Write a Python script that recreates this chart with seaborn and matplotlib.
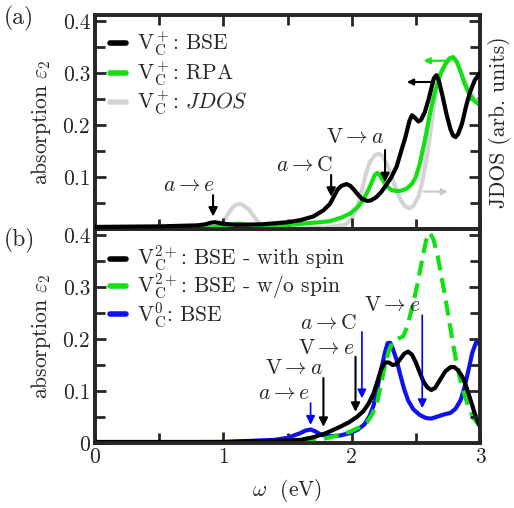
import matplotlib
matplotlib.use("Agg")
import matplotlib.pyplot as plt
import seaborn as sns
from matplotlib.lines import Line2D
from matplotlib.ticker import MultipleLocator

# ---- panel (a): V_C^+ ----
xa_bse = [0.0, 0.5, 0.8, 0.86, 0.9, 0.93, 0.96, 1.0, 1.1, 1.3, 1.5, 1.6, 1.7, 1.78, 1.83, 1.86,
          1.89, 1.92, 1.96, 1.99, 2.02, 2.05, 2.08, 2.12, 2.15, 2.19, 2.23, 2.27, 2.31, 2.35, 2.38,
          2.42, 2.45, 2.47, 2.49, 2.52, 2.54, 2.57, 2.6, 2.62, 2.64, 2.66, 2.68, 2.71, 2.74, 2.77,
          2.79, 2.81, 2.83, 2.86, 2.89, 2.92, 2.96, 3.0]
ya_bse = [0.004, 0.005, 0.007, 0.009, 0.012, 0.013, 0.012, 0.01, 0.008, 0.009, 0.013, 0.017, 0.024,
          0.036, 0.048, 0.062, 0.076, 0.083, 0.0865, 0.083, 0.075, 0.066, 0.058, 0.054, 0.055, 0.061,
          0.071, 0.085, 0.1, 0.12, 0.145, 0.178, 0.208, 0.219, 0.215, 0.207, 0.21, 0.225, 0.25, 0.27,
          0.29, 0.296, 0.285, 0.254, 0.22, 0.192, 0.18, 0.177, 0.183, 0.203, 0.235, 0.262, 0.287,
          0.30]

xa_rpa = [0.0, 0.9, 1.0, 1.05, 1.09, 1.13, 1.18, 1.3, 1.5, 1.6, 1.75, 1.83, 1.92, 1.99, 2.05, 2.09,
          2.13, 2.16, 2.18, 2.2, 2.22, 2.25, 2.28, 2.31, 2.35, 2.39, 2.43, 2.47, 2.5, 2.53, 2.57,
          2.61, 2.65, 2.69, 2.73, 2.76, 2.79, 2.82, 2.85, 2.88, 2.91, 2.95, 3.0]
ya_rpa = [0.003, 0.003, 0.005, 0.008, 0.01, 0.01, 0.008, 0.005, 0.008, 0.01, 0.013, 0.015, 0.022,
          0.03, 0.043, 0.056, 0.075, 0.092, 0.104, 0.108, 0.103, 0.091, 0.081, 0.075, 0.073, 0.074,
          0.078, 0.087, 0.1, 0.125, 0.17, 0.222, 0.265, 0.297, 0.318, 0.328, 0.331, 0.322, 0.302,
          0.28, 0.263, 0.248, 0.238]

xa_jdos = [0.0, 0.9, 0.96, 1.0, 1.04, 1.07, 1.1, 1.13, 1.16, 1.2, 1.23, 1.27, 1.31, 1.4, 1.8, 1.95,
           2.0, 2.04, 2.08, 2.11, 2.14, 2.18, 2.21, 2.24, 2.27, 2.3, 2.33, 2.36, 2.39, 2.42, 2.45,
           2.48, 2.52, 2.55, 2.58, 2.61, 2.64, 2.66, 2.68, 2.7, 2.73, 2.77, 2.8, 2.84, 2.88, 2.92,
           2.96, 3.0]
ya_jdos = [0.0, 0.0, 0.004, 0.015, 0.03, 0.041, 0.047, 0.048, 0.045, 0.037, 0.027, 0.014, 0.006,
           0.002, 0.003, 0.008, 0.02, 0.04, 0.075, 0.105, 0.128, 0.142, 0.145, 0.14, 0.128, 0.11,
           0.088, 0.068, 0.052, 0.043, 0.04, 0.044, 0.062, 0.09, 0.13, 0.18, 0.235, 0.27, 0.293,
           0.305, 0.316, 0.326, 0.328, 0.31, 0.285, 0.265, 0.25, 0.24]

# ---- panel (b): V_C^2+ and V_C^0 ----
xb_spin = [0.0, 1.0, 1.4, 1.6, 1.7, 1.8, 1.9, 1.98, 2.04, 2.09, 2.13, 2.17, 2.2, 2.23, 2.26, 2.29,
           2.32, 2.35, 2.38, 2.41, 2.44, 2.47, 2.5, 2.53, 2.56, 2.59, 2.62, 2.65, 2.69, 2.73, 2.77,
           2.8, 2.83, 2.87, 2.9, 2.93, 2.96, 3.0]
yb_spin = [0.002, 0.002, 0.004, 0.006, 0.011, 0.019, 0.03, 0.04, 0.05, 0.061, 0.075, 0.095, 0.118,
           0.142, 0.155, 0.155, 0.15, 0.152, 0.162, 0.172, 0.176, 0.17, 0.155, 0.136, 0.118, 0.107,
           0.102, 0.106, 0.122, 0.138, 0.146, 0.146, 0.14, 0.124, 0.103, 0.08, 0.056, 0.031]

xb_nospin = [0.0, 1.0, 1.6, 1.8, 1.9, 1.99, 2.06, 2.12, 2.16, 2.2, 2.23, 2.26, 2.29, 2.32, 2.36,
             2.4, 2.43, 2.46, 2.49, 2.52, 2.55, 2.58, 2.61, 2.64, 2.67, 2.7, 2.73, 2.76, 2.79, 2.82,
             2.85, 2.88, 2.91, 2.95, 3.0]
yb_nospin = [0.0, 0.001, 0.003, 0.009, 0.015, 0.022, 0.03, 0.04, 0.055, 0.08, 0.115, 0.15, 0.178,
             0.194, 0.201, 0.205, 0.222, 0.25, 0.28, 0.315, 0.355, 0.39, 0.405, 0.39, 0.36, 0.32,
             0.28, 0.235, 0.19, 0.15, 0.118, 0.092, 0.07, 0.048, 0.031]

xb_neutral = [0.0, 1.0, 1.4, 1.5, 1.6, 1.64, 1.68, 1.72, 1.76, 1.82, 1.9, 1.99, 2.05, 2.1, 2.14,
              2.17, 2.2, 2.23, 2.26, 2.28, 2.3, 2.32, 2.35, 2.38, 2.41, 2.44, 2.48, 2.53, 2.58,
              2.62, 2.67, 2.72, 2.77, 2.81, 2.85, 2.88, 2.91, 2.94, 2.97, 3.0]
yb_neutral = [0.001, 0.002, 0.006, 0.01, 0.019, 0.024, 0.026, 0.022, 0.016, 0.013, 0.014, 0.019,
              0.026, 0.036, 0.052, 0.072, 0.105, 0.142, 0.175, 0.192, 0.193, 0.182, 0.16, 0.13,
              0.103, 0.082, 0.065, 0.054, 0.048, 0.047, 0.051, 0.055, 0.058, 0.066, 0.083, 0.108,
              0.14, 0.174, 0.194, 0.19]

# vertical arrows: x, y_start, y_tip, colour
arrows_a = [(0.92, 0.065, 0.024, "black"), (1.84, 0.104, 0.062, "black"), (2.26, 0.152, 0.09, "black")]
labels_a = [(0.73, 0.085, r"$a\rightarrow e$"), (1.63, 0.123, r"$a\rightarrow \mathrm{C}$"),
            (2.03, 0.177, r"$\mathrm{V}\rightarrow a$")]
# horizontal arrows (which axis a curve belongs to): y, x_start, x_tip, colour
harrows_a = [(0.324, 2.74, 2.56, "#11e011"), (0.283, 2.64, 2.43, "black"), (0.072, 2.56, 2.75, "#c8c8c8")]

arrows_b = [(1.68, 0.077, 0.035, "blue"), (1.78, 0.125, 0.031, "black"), (2.03, 0.166, 0.06, "black"),
            (2.08, 0.214, 0.086, "blue"), (2.55, 0.246, 0.067, "blue")]
labels_b = [(1.47, 0.096, r"$a\rightarrow e$"), (1.55, 0.144, r"$\mathrm{V}\rightarrow a$"),
            (1.80, 0.183, r"$\mathrm{V}\rightarrow e$"), (1.82, 0.231, r"$a\rightarrow \mathrm{C}$"),
            (2.32, 0.265, r"$\mathrm{V}\rightarrow e$")]

green = "#11e011"
gray = "#d4d4d4"
blue = "#1010f0"

sns.set_style("ticks")
plt.rcParams["font.family"] = "cmr10"
plt.rcParams["mathtext.fontset"] = "cm"
plt.rcParams["axes.unicode_minus"] = False
plt.rcParams["axes.formatter.use_mathtext"] = True
plt.rcParams["font.size"] = 15.5

fig = plt.figure(figsize=(5.14, 5.08), dpi=100)
W, H = 514, 508
ax_a = fig.add_axes([95 / W, 1 - 229 / H, 385 / W, 214 / H])
ax_b = fig.add_axes([95 / W, 1 - 443 / H, 385 / W, 214 / H])
ax_j = ax_a.twinx()
ax_r = ax_b.twinx()

lw = 3
lkw = dict(lw=lw, solid_joinstyle="round", dash_joinstyle="round", solid_capstyle="round")
sns.lineplot(x=xa_jdos, y=ya_jdos, ax=ax_j, color=gray, zorder=1, **lkw)
sns.lineplot(x=xa_rpa, y=ya_rpa, ax=ax_a, color=green, zorder=2, **lkw)
sns.lineplot(x=xa_bse, y=ya_bse, ax=ax_a, color="black", zorder=3, **lkw)

sns.lineplot(x=xb_neutral, y=yb_neutral, ax=ax_b, color=blue, zorder=2, **lkw)
sns.lineplot(x=xb_nospin, y=yb_nospin, ax=ax_b, color=green, zorder=3, **lkw)
ax_b.lines[-1].set_dashes((3.6, 1.9))
sns.lineplot(x=xb_spin, y=yb_spin, ax=ax_b, color="black", zorder=4, **lkw)

# JDOS axis sits behind the absorption axis
ax_a.set_zorder(ax_j.get_zorder() + 1)
ax_a.patch.set_visible(False)

h_a = [Line2D([], [], color="black", lw=4), Line2D([], [], color=green, lw=4),
       Line2D([], [], color=gray, lw=4)]
ax_a.legend(h_a, [r"$\mathrm{V_C^+}$: BSE", r"$\mathrm{V_C^+}$: RPA", r"$\mathrm{V_C^+}$: $JDOS$"],
            loc="upper left", bbox_to_anchor=(0.0, 1.0), frameon=False, handlelength=0.75,
            handletextpad=0.5, labelspacing=0.05, borderaxespad=0.3, fontsize=15.5)
h_b = [Line2D([], [], color="black", lw=4), Line2D([], [], color=green, lw=4),
       Line2D([], [], color=blue, lw=4)]
ax_b.legend(h_b, [r"$\mathrm{V_C^{2+}}$: BSE - with spin", r"$\mathrm{V_C^{2+}}$: BSE - w/o spin",
                  r"$\mathrm{V_C^{0}}$: BSE"],
            loc="upper left", bbox_to_anchor=(0.0, 1.0), frameon=False, handlelength=0.75,
            handletextpad=0.5, labelspacing=-0.1, borderaxespad=0.3, fontsize=15.5)

akw = dict(arrowstyle="-|>", shrinkA=0, shrinkB=0, mutation_scale=13)
for ax, arrows, labels in [(ax_a, arrows_a, labels_a), (ax_b, arrows_b, labels_b)]:
    for x, y0, y1, c in arrows:
        ax.annotate("", xy=(x, y1), xytext=(x, y0),
                    arrowprops=dict(color=c, lw=1.5 if c == "black" else 1.2, **akw), zorder=6)
    for x, y, s in labels:
        ax.text(x, y, s, ha="center", va="center", fontsize=15.5, zorder=6)
for y, x0, x1, c in harrows_a:
    ax_a.annotate("", xy=(x1, y), xytext=(x0, y),
                  arrowprops=dict(color=c, lw=1.5, arrowstyle="-|>", shrinkA=0, shrinkB=0,
                                  mutation_scale=9), zorder=6)

for ax in [ax_a, ax_b, ax_j, ax_r]:
    ax.set_xlim(0, 3)
    ax.set_ylim(0, 0.412)
    ax.xaxis.set_major_locator(MultipleLocator(1))
    ax.xaxis.set_minor_locator(MultipleLocator(0.5))
    ax.yaxis.set_major_locator(MultipleLocator(0.1))
    ax.yaxis.set_minor_locator(MultipleLocator(0.05))
    ax.tick_params(which="major", direction="in", length=8, width=2)
    ax.tick_params(which="minor", direction="in", length=7, width=2)
    for sp in ax.spines.values():
        sp.set_linewidth(2.6)
        sp.set_visible(True)
    ax.set_xlabel("")
    ax.set_ylabel("")

ax_a.tick_params(which="both", top=True, bottom=True, left=True, right=False,
                 labelbottom=False, labelsize=15.5)
ax_j.tick_params(which="both", right=True, left=False, top=False, bottom=False,
                 labelright=False, labelbottom=False)
ax_b.tick_params(which="both", top=False, bottom=True, left=True, right=False, labelsize=15.5)
ax_r.tick_params(which="both", right=True, left=False, top=False, bottom=False,
                 labelright=False, labelbottom=False)
ax_a.set_yticks([0.1, 0.2, 0.3, 0.4])
ax_a.set_yticklabels(["0.1", "0.2", "0.3", "0.4"])
ax_b.set_yticks([0, 0.1, 0.2, 0.3, 0.4])
ax_b.set_yticklabels(["0", "0.1", "0.2", "0.3", "0.4"])
ax_b.set_xticks([0, 1, 2, 3])
ax_b.set_xticklabels(["0", "1", "2", "3"])

ax_a.set_ylabel(r"absorption $\varepsilon_2$", fontsize=15.5, labelpad=7)
ax_b.set_ylabel(r"absorption $\varepsilon_2$", fontsize=15.5, labelpad=7)
ax_j.set_ylabel("JDOS (arb. units)", fontsize=15.5, labelpad=6)
ax_b.set_xlabel(r"$\omega$  (eV)", fontsize=15.5, labelpad=7)

fig.text(4 / W, 1 - 18 / H, "(a)", fontsize=17, ha="left", va="center")
fig.text(4 / W, 1 - 240 / H, "(b)", fontsize=17, ha="left", va="center")

fig.savefig("out.png", dpi=100)
